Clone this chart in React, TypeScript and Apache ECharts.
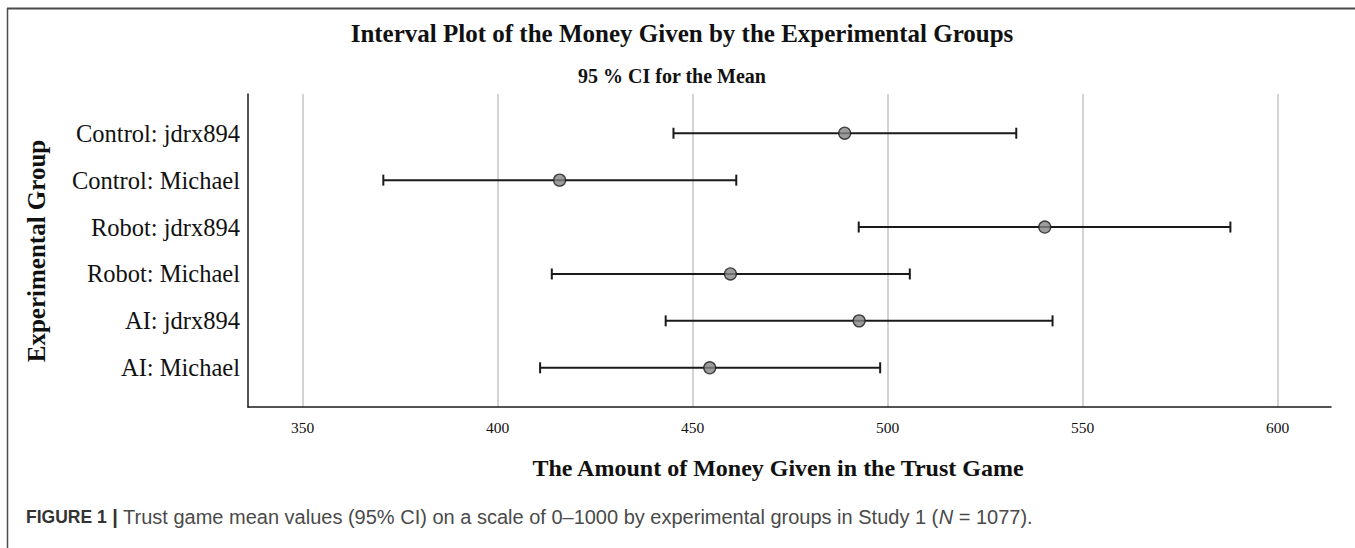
import React, { useEffect, useRef } from "react";
import * as echarts from "echarts";

const groups = [
  "Control: jdrx894",
  "Control: Michael",
  "Robot: jdrx894",
  "Robot: Michael",
  "AI: jdrx894",
  "AI: Michael",
];
const lower = [445.1, 370.7, 492.6, 413.9, 443.1, 410.9];
const means = [489.0, 415.9, 540.3, 459.7, 492.7, 454.4];
const upper = [533.0, 461.2, 587.9, 505.7, 542.3, 498.1];
const xTicks = [350, 400, 450, 500, 550, 600];

const SERIF = "'Liberation Serif', 'Times New Roman', serif";
const SANS = "'Liberation Sans', Arial, Helvetica, sans-serif";

export default function App() {
  const ref = useRef<HTMLDivElement>(null);
  useEffect(() => {
    if (!ref.current) return;
    const chart = echarts.init(ref.current, undefined, { renderer: "svg" });
    const barData = groups.map((_, i) => [i, lower[i], upper[i]]);
    const meanData = groups.map((_, i) => [means[i], i]);
    chart.setOption({
      animation: false,
      backgroundColor: "#ffffff",
      grid: { left: 248, right: 24, top: 94, bottom: 141 },
      xAxis: {
        type: "value",
        min: 336,
        max: 613.7,
        z: 6,
        axisLine: { show: true, onZero: false, lineStyle: { color: "#1a1a1a", width: 1.5 } },
        axisTick: { show: false },
        splitLine: { show: false },
        axisLabel: {
          customValues: xTicks,
          margin: 12,
          fontFamily: SERIF,
          fontSize: 15.5,
          color: "#111",
        },
      },
      yAxis: {
        type: "value",
        inverse: true,
        min: -0.836,
        max: 5.836,
        z: 6,
        axisLine: { show: true, onZero: false, lineStyle: { color: "#1a1a1a", width: 1.5 } },
        axisTick: { show: false },
        splitLine: { show: false },
        axisLabel: {
          customValues: groups.map((_, i) => i),
          formatter: (v: number) => groups[Math.round(v)] ?? "",
          margin: 8,
          fontFamily: SERIF,
          fontSize: 24.5,
          color: "#111",
        },
      },
      series: [
        {
          type: "scatter",
          data: [],
          z: 1,
          silent: true,
          markLine: {
            silent: true,
            symbol: "none",
            z: 1,
            label: { show: false },
            lineStyle: { color: "#c4c4c4", width: 1.5, type: "solid" },
            data: xTicks.map((t) => ({ xAxis: t })),
          },
        },
        {
          type: "custom",
          z: 3,
          silent: true,
          encode: { x: [1, 2], y: 0 },
          data: barData,
          renderItem: (params: any, api: any) => {
            const idx = api.value(0);
            const p1 = api.coord([api.value(1), idx]);
            const p2 = api.coord([api.value(2), idx]);
            const h = 5.5;
            const st = { stroke: "#1a1a1a", lineWidth: 2 };
            return {
              type: "group",
              children: [
                { type: "line", shape: { x1: p1[0], y1: p1[1], x2: p2[0], y2: p2[1] }, style: st },
                { type: "line", shape: { x1: p1[0], y1: p1[1] - h, x2: p1[0], y2: p1[1] + h }, style: st },
                { type: "line", shape: { x1: p2[0], y1: p2[1] - h, x2: p2[0], y2: p2[1] + h }, style: st },
              ],
            };
          },
        },
        {
          type: "scatter",
          z: 4,
          silent: true,
          symbol: "circle",
          symbolSize: 12,
          itemStyle: { color: "#858585", borderColor: "#1a1a1a", borderWidth: 1.3 },
          data: meanData,
        },
      ],
      graphic: [
        { type: "line", shape: { x1: 7, y1: 8.5, x2: 1355, y2: 8.5 }, style: { stroke: "#4a4a4a", lineWidth: 2 } },
        { type: "line", shape: { x1: 7.5, y1: 8, x2: 7.5, y2: 548 }, style: { stroke: "#4a4a4a", lineWidth: 1.5 } },
        {
          type: "text",
          x: 682,
          y: 33,
          style: {
            text: "Interval Plot of the Money Given by the Experimental Groups",
            fontFamily: SERIF,
            fontWeight: "bold",
            fontSize: 25,
            fill: "#111",
            align: "center",
            verticalAlign: "middle",
          },
        },
        {
          type: "text",
          x: 672,
          y: 76,
          style: {
            text: "95 % CI for the Mean",
            fontFamily: SERIF,
            fontWeight: "bold",
            fontSize: 20,
            fill: "#111",
            align: "center",
            verticalAlign: "middle",
          },
        },
        {
          type: "text",
          x: 778,
          y: 468,
          style: {
            text: "The Amount of Money Given in the Trust Game",
            fontFamily: SERIF,
            fontWeight: "bold",
            fontSize: 24,
            fill: "#111",
            align: "center",
            verticalAlign: "middle",
          },
        },
        {
          type: "text",
          x: 36,
          y: 251,
          rotation: Math.PI / 2,
          style: {
            text: "Experimental Group",
            fontFamily: SERIF,
            fontWeight: "bold",
            fontSize: 25,
            fill: "#111",
            align: "center",
            verticalAlign: "middle",
          },
        },
        {
          type: "text",
          x: 26,
          y: 517,
          style: {
            text: "{b|FIGURE 1} {s||} Trust game mean values (95% CI) on a scale of 0–1000 by experimental groups in Study 1 ({i|N} = 1077).",
            fontFamily: SANS,
            fontSize: 20,
            fill: "#4a4a4a",
            verticalAlign: "middle",
            rich: {
              b: { fontFamily: SANS, fontSize: 17.5, fontWeight: "bold", fill: "#333" },
              s: { fontFamily: SANS, fontSize: 20, fontWeight: "bold", fill: "#333" },
              i: { fontFamily: SANS, fontSize: 20, fontStyle: "italic", fill: "#4a4a4a" },
            },
          },
        },
      ],
    });
    return () => chart.dispose();
  }, []);
  return (
    <div
      ref={ref}
      style={{ position: "absolute", left: 0, top: 0, width: 1355, height: 548 }}
    />
  );
}
